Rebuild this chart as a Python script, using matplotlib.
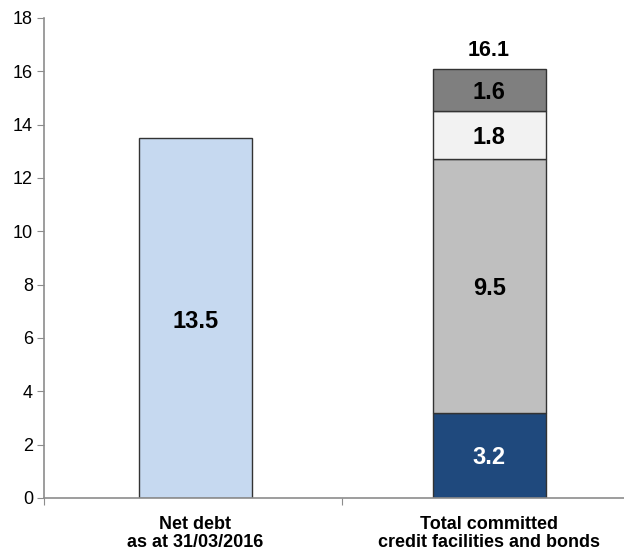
import matplotlib
matplotlib.use("Agg")
import matplotlib.pyplot as plt

plt.rcParams['font.family'] = ['Liberation Sans', 'DejaVu Sans']

categories = ["Net debt\nas at 31/03/2016", "Total committed\ncredit facilities and bonds"]
net_debt = 13.5
facility_values = [3.2, 9.5, 1.8, 1.6]
facility_total = 16.1
facility_colors = ['#1f497d', '#bfbfbf', '#f2f2f2', '#7f7f7f']
facility_text_colors = ['white', 'black', 'black', 'black']
yticks = [0, 2, 4, 6, 8, 10, 12, 14, 16, 18]

fig = plt.figure(figsize=(6.24, 5.52), dpi=100)
ax = fig.add_axes([44 / 624, 54 / 552, 592 / 624, 480 / 552])

bar_w = 0.384
edge = '#333333'
val_size = 17
total_size = 15.5

# left bar: net debt
ax.bar(0, net_debt, width=bar_w, color='#c6d9f0', edgecolor=edge, linewidth=1)
ax.text(0, net_debt / 2 - 0.12, f"{net_debt}", ha='center', va='center',
        fontsize=val_size, fontweight='bold', color='black')

# right bar: stacked facilities
bottom = 0
for val, col, tcol in zip(facility_values, facility_colors, facility_text_colors):
    ax.bar(1, val, width=bar_w, bottom=bottom, color=col, edgecolor=edge, linewidth=1)
    ax.text(1, bottom + val / 2 - 0.08, f"{val}", ha='center', va='center',
            fontsize=val_size, fontweight='bold', color=tcol)
    bottom += val
ax.text(1, facility_total + 0.3, f"{facility_total}", ha='center', va='bottom',
        fontsize=total_size, fontweight='bold', color='black')

ax.set_xlim(-0.515, 1.5)
ax.set_ylim(0, 18)
ax.set_yticks(yticks)
ax.set_yticklabels([str(t) for t in yticks], fontsize=13)

# category boundaries as x ticks, labels placed under bar centres
ax.set_xticks([-0.515, 0.5, 1.5])
ax.set_xticklabels([])
for i, lab in enumerate(categories):
    ax.text(i, -0.68, lab, ha='center', va='top', fontsize=13,
            fontweight='bold', linespacing=1.05)

for s in ['top', 'right']:
    ax.spines[s].set_visible(False)
for s in ['left', 'bottom']:
    ax.spines[s].set_color('#8c8c8c')
    ax.spines[s].set_linewidth(1.2)
ax.tick_params(axis='y', direction='out', length=5, color='#8c8c8c', pad=3)
ax.tick_params(axis='x', direction='out', length=5, color='#8c8c8c')

fig.savefig('out.png', dpi=100)
